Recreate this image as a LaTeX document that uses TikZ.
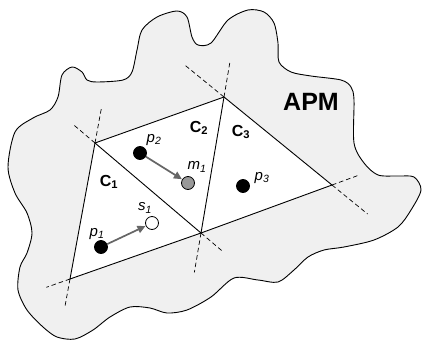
\documentclass[tikz,border=0pt]{standalone}
\usepackage{fontspec}
\setmainfont{Liberation Sans}
\usetikzlibrary{arrows.meta,calc}

\tikzset{
  dot/.style={circle, draw, line width=0.8pt, minimum size=13pt, inner sep=0pt},
  move/.style={draw=black!60, line width=1.7pt, -{Triangle[length=8pt,width=7.5pt]}, shorten >=0.3pt},
  cell/.style={font=\bfseries\fontsize{16}{18}\selectfont},
  lbl/.style={font=\itshape\fontsize{15}{17}\selectfont},
  ext/.style={line width=0.7pt, dash pattern=on 4.5pt off 3pt},
}

\begin{document}
\begin{tikzpicture}[x=1pt, y=-1pt, line width=0.9pt]
        \useasboundingbox (0,0) rectangle (422,340);

        % APM region
        \draw[fill=black!6] plot[smooth cycle] coordinates {
            (8,167) (15,132) (33,118) (50,110) (58,97) (62,75) (72,67) (82,72)
            (87,80) (97,82) (123,80) (132,72) (137,50) (142,30) (157,17) (177,11)
            (187,17) (192,37) (198,45) (211,43) (228,20) (248,10) (264,12) (274,23)
            (278,43) (279,62) (291,72) (311,76) (341,80) (351,87) (354,100) (354,143)
            (364,163) (378,175) (398,176) (414,177) (421,190) (411,210) (398,227) (374,240)
            (344,247) (324,250) (308,257) (294,270) (278,282) (258,280) (234,278) (211,297)
            (187,310) (167,313) (150,308) (130,307) (110,317) (93,330) (75,339) (57,337)
            (43,327) (27,310) (18,290) (20,267) (27,253) (32,233) (27,213) (15,193)};

        % Vertices
        \coordinate (A) at (95,143);
        \coordinate (B) at (224,97);
        \coordinate (C) at (201,233);
        \coordinate (D) at (332,185);
        \coordinate (E) at (70,279);

        % Cells
        \fill[white] (A) -- (B) -- (D) -- (C) -- (E) -- cycle;
        \draw (A) -- (B) -- (D) -- (C) -- (E) -- cycle;
        \draw (A) -- (C) -- (B);

        % Extended edges
        \foreach \v/\w/\f in {A/C/0.2, A/E/0.26, B/D/0.36, B/C/0.26, D/C/0.2,
                              D/B/0.33, C/A/0.2, C/B/0.29, E/C/0.18, E/A/0.21} {
            \draw[ext] (\v) -- ($(\v)!-\f!(\w)$);
        }

        % Cell labels
        \node[cell] (c1) at (109,182) {C\textsubscript{1}};
        \node[cell] (c2) at (199,128) {C\textsubscript{2}};
        \node[cell] (c3) at (241,132) {C\textsubscript{3}};
        \node[font=\bfseries\fontsize{25}{28}\selectfont] (apm) at (311,102) {APM};

        % Points
        \node[dot, fill=black] (p1) at (101,247) {};
        \node[dot, fill=black] (p2) at (140,153) {};
        \node[dot, fill=black] (p3) at (243,186) {};
        \node[dot, fill=black!40] (m1) at (188,183) {};
        \node[dot, fill=white] (s1) at (152,223) {};

        \node[lbl] (p1lbl) at (97,234) {p\textsubscript{1}};
        \node[lbl] (p2lbl) at (154,140) {p\textsubscript{2}};
        \node[lbl] (p3lbl) at (262,178) {p\textsubscript{3}};
        \node[lbl] (m1lbl) at (197,167) {m\textsubscript{1}};
        \node[lbl] (s1lbl) at (145,208) {s\textsubscript{1}};

        % Moves
        \draw[move] (p2) -- (m1);
        \draw[move] (p1) -- (s1);
    \end{tikzpicture}
\end{document}
